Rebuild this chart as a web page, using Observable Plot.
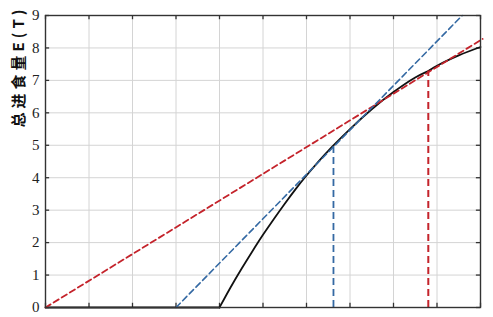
<!DOCTYPE html>
<html>
<head>
<meta charset="utf-8">
<script src="https://cdn.jsdelivr.net/npm/d3@7"></script>
<script src="https://cdn.jsdelivr.net/npm/@observablehq/plot@0.6"></script>
<style>
  html, body { margin: 0; padding: 0; background: #fff; }
</style>
</head>
<body>
<div id="chart"></div>
<script>
// Curve: total intake E(T) (zero until T = 4)
const curveT = [4, 4.25, 4.5, 4.75, 5, 5.25, 5.5, 5.75, 6, 6.25, 6.5, 6.62, 7, 7.5, 8, 8.5, 8.8, 9, 9.5, 10];
const curveE = [0, 0.61, 1.18, 1.72, 2.24, 2.73, 3.20, 3.65, 4.07, 4.46, 4.83, 5.0, 5.50, 6.11, 6.64, 7.09, 7.29, 7.45, 7.77, 8.03];
const flatT = [0, 4];
const flatE = [0, 0];

// Tangent lines
const blueT = [3, 9.58];
const blueE = [0, 9.0];
const redT = [0, 10.05];
const redE = [0, 8.28];

// Vertical drop lines
const blueDropT = 6.62, blueDropE = 5.0;
const redDropT = 8.8, redDropE = 7.29;

// Axes
const xTicks = [0, 1, 2, 3, 4, 5, 6, 7, 8, 9, 10];
const yTicks = [0, 1, 2, 3, 4, 5, 6, 7, 8, 9];
const yLabel = "总进食量E(T)";

const curve = curveT.map((t, i) => ({t, e: curveE[i]}));
const flat = flatT.map((t, i) => ({t, e: flatE[i]}));
const blue = blueT.map((t, i) => ({t, e: blueE[i]}));
const red = redT.map((t, i) => ({t, e: redE[i]}));

const blueC = "#3469a3";
const redC = "#c4232b";
const tickLenY = 0.13; // data units on y
const tickLenX = 0.095; // data units on x

const chart = Plot.plot({
  width: 493,
  height: 317,
  marginLeft: 45,
  marginRight: 13,
  marginTop: 15,
  marginBottom: 10,
  x: {domain: [0, 10]},
  y: {domain: [0, 9]},
  style: {background: "#fff"},
  marks: [
    Plot.gridX(xTicks, {stroke: "#d4d4d4", strokeOpacity: 1, strokeWidth: 1}),
    Plot.gridY(yTicks, {stroke: "#d4d4d4", strokeOpacity: 1, strokeWidth: 1}),
    Plot.axisX({ticks: [], label: null, tickSize: 0}),
    Plot.axisY(yTicks, {tickSize: 0, tickPadding: 6, label: null, fontSize: 15,
      fontFamily: "Liberation Serif, DejaVu Serif, serif", fill: "#222"}),
    // inward ticks
    Plot.ruleX(xTicks, {x: d => d, y1: 0, y2: tickLenY, stroke: "#333", strokeWidth: 1.3}),
    Plot.ruleX(xTicks, {x: d => d, y1: 9, y2: 9 - tickLenY, stroke: "#333", strokeWidth: 1.3}),
    Plot.ruleY(yTicks, {y: d => d, x1: 0, x2: tickLenX, stroke: "#333", strokeWidth: 1.3}),
    Plot.ruleY(yTicks, {y: d => d, x1: 10, x2: 10 - tickLenX, stroke: "#333", strokeWidth: 1.3}),
    // curve
    Plot.line(flat, {x: "t", y: "e", stroke: "#111", strokeWidth: 1.8}),
    Plot.line(curve, {x: "t", y: "e", stroke: "#111", strokeWidth: 1.8, curve: "natural"}),
    // tangents
    Plot.line(red, {x: "t", y: "e", stroke: redC, strokeWidth: 1.8, strokeDasharray: "6,3.5"}),
    Plot.line(blue, {x: "t", y: "e", stroke: blueC, strokeWidth: 1.6, strokeDasharray: "6,3.5"}),
    // drops
    Plot.ruleX([blueDropT], {x: d => d, y1: 0, y2: blueDropE, stroke: blueC, strokeWidth: 1.8, strokeDasharray: "7,4"}),
    Plot.ruleX([redDropT], {x: d => d, y1: 0, y2: redDropE, stroke: redC, strokeWidth: 2, strokeDasharray: "7,4"}),
    Plot.frame({stroke: "#333", strokeWidth: 1.4}),
    Plot.text([yLabel], {frameAnchor: "left", rotate: -90, dx: -26, dy: -34,
      fontSize: 15, fontWeight: "bold", fill: "#111",
      fontFamily: "Noto Sans CJK SC, sans-serif"})
  ]
});
chart.querySelectorAll("text").forEach(t => {
  if (t.textContent === yLabel) t.style.letterSpacing = "4px";
});
document.getElementById("chart").appendChild(chart);
</script>
</body>
</html>
